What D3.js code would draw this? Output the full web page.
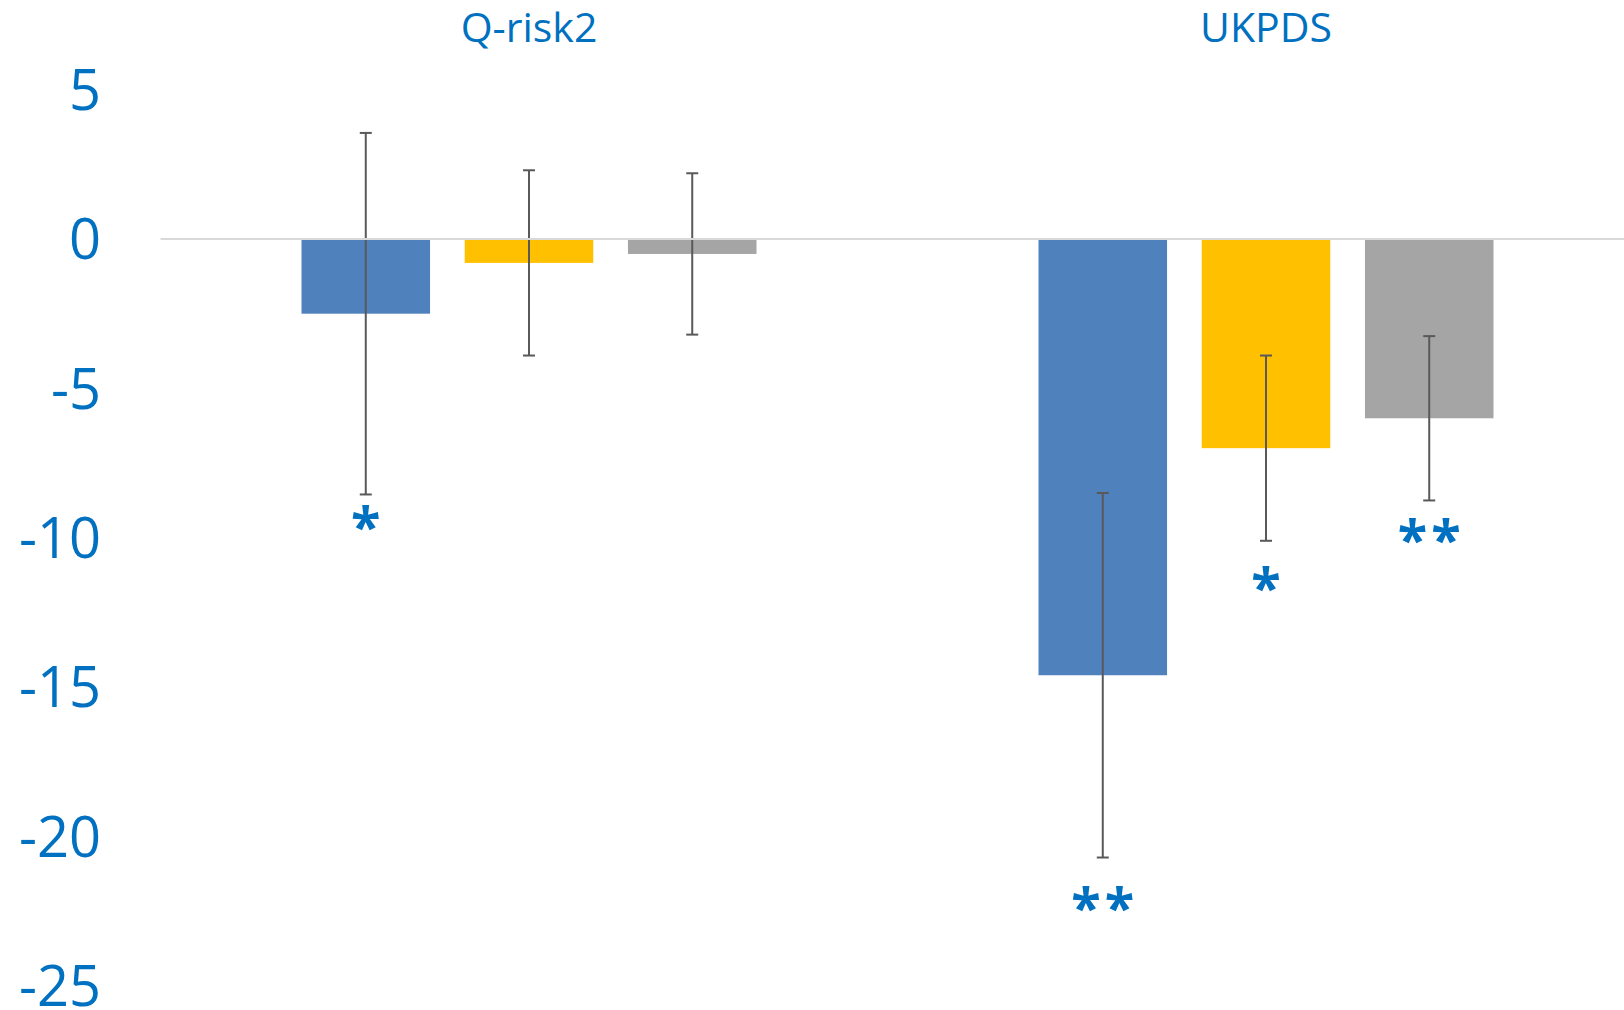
<!DOCTYPE html>
<html>
<head>
<meta charset="utf-8">
<script src="https://cdn.jsdelivr.net/npm/d3@7"></script>
<style>
  html, body { margin: 0; padding: 0; background: #ffffff; }
  svg { display: block; }
  text { font-family: "Open Sans", "Noto Sans", sans-serif; }
</style>
</head>
<body>
<svg id="chart" width="1624" height="1010"></svg>
<script>
// Risk-score groups and the three compared series in each group
const categories = ["Q-risk2", "UKPDS"];
const seriesNames = ["A", "B", "C"];
const seriesColors = ["#4F81BD", "#FFC000", "#A5A5A5"];

// Mean change per series, one array per group
const qriskValues = [-2.5, -0.8, -0.5];
const ukpdsValues = [-14.6, -7.0, -6.0];

// Half-width of the error bars (symmetric)
const qriskErrors = [6.05, 3.1, 2.7];
const ukpdsErrors = [6.1, 3.1, 2.75];

// Significance markers and the value at which each one sits
const qriskSig = ["*", "", ""];
const ukpdsSig = ["**", "*", "**"];
const qriskSigAt = [-9.35, null, null];
const ukpdsSigAt = [-22.1, -11.4, -9.8];

// Y axis ticks
const yTicks = [5, 0, -5, -10, -15, -20, -25];

const groups = [
  { name: categories[0], values: qriskValues, errors: qriskErrors, sig: qriskSig, sigAt: qriskSigAt },
  { name: categories[1], values: ukpdsValues, errors: ukpdsErrors, sig: ukpdsSig, sigAt: ukpdsSigAt }
];

const svg = d3.select("#chart");
const blue = "#0070C0";

const x0 = d3.scaleBand().domain(categories).range([160.5, 1634.5]).padding(0);
const x1 = d3.scaleBand().domain(seriesNames)
  .range([141, x0.bandwidth() - 141])
  .paddingInner(0.2125).paddingOuter(0);
const y = d3.scaleLinear().domain([-25, 5]).range([986, 89.6]);
const color = d3.scaleOrdinal().domain(seriesNames).range(seriesColors);

// Y axis labels only (no line, no ticks); plain hyphen for negatives
const yAxis = svg.append("g")
  .attr("transform", "translate(101,0)")
  .call(d3.axisLeft(y).tickValues(yTicks).tickSize(0).tickPadding(0).tickFormat(d => String(d)));
yAxis.select(".domain").remove();
yAxis.selectAll("text")
  .attr("fill", blue)
  .style("font-size", "56px")
  .style("font-family", "'Open Sans', sans-serif")
  .attr("dy", "0.35em");

// Category titles across the top
svg.append("g").selectAll("text")
  .data(categories)
  .join("text")
  .attr("x", d => x0(d) + x0.bandwidth() / 2)
  .attr("y", 41.5)
  .attr("text-anchor", "middle")
  .attr("fill", blue)
  .style("font-size", "41px")
  .text(d => d);

const g = svg.append("g").selectAll("g")
  .data(groups)
  .join("g")
  .attr("transform", d => `translate(${x0(d.name)},0)`);

const rows = d => seriesNames.map((s, i) => ({
  key: s, value: d.values[i], err: d.errors[i], sig: d.sig[i], sigAt: d.sigAt[i]
}));

// Bars
g.selectAll("rect")
  .data(rows)
  .join("rect")
  .attr("x", d => x1(d.key))
  .attr("width", x1.bandwidth())
  .attr("y", d => y(Math.max(0, d.value)))
  .attr("height", d => Math.abs(y(d.value) - y(0)))
  .attr("fill", d => color(d.key));

// Zero baseline
svg.append("line")
  .attr("x1", 160.5).attr("x2", 1624)
  .attr("y1", y(0)).attr("y2", y(0))
  .attr("stroke", "#D9D9D9")
  .attr("stroke-width", 2);

// Error bars
const capHalf = 6;
const eb = g.selectAll("g.err")
  .data(rows)
  .join("g")
  .attr("class", "err")
  .attr("stroke", "#595959")
  .attr("stroke-width", 2);
eb.append("line")
  .attr("x1", d => x1(d.key) + x1.bandwidth() / 2)
  .attr("x2", d => x1(d.key) + x1.bandwidth() / 2)
  .attr("y1", d => y(d.value + d.err))
  .attr("y2", d => y(d.value - d.err));
eb.append("line")
  .attr("x1", d => x1(d.key) + x1.bandwidth() / 2 - capHalf)
  .attr("x2", d => x1(d.key) + x1.bandwidth() / 2 + capHalf)
  .attr("y1", d => y(d.value + d.err))
  .attr("y2", d => y(d.value + d.err));
eb.append("line")
  .attr("x1", d => x1(d.key) + x1.bandwidth() / 2 - capHalf)
  .attr("x2", d => x1(d.key) + x1.bandwidth() / 2 + capHalf)
  .attr("y1", d => y(d.value - d.err))
  .attr("y2", d => y(d.value - d.err));

// Significance asterisks
g.selectAll("text.sig")
  .data(d => rows(d).filter(r => r.sig))
  .join("text")
  .attr("class", "sig")
  .attr("x", d => x1(d.key) + x1.bandwidth() / 2 + 2)
  .attr("y", d => y(d.sigAt))
  .attr("dy", "0.51em")
  .attr("text-anchor", "middle")
  .attr("fill", blue)
  .style("font-size", "54px")
  .style("font-weight", "bold")
  .style("letter-spacing", "4px")
  .text(d => d.sig);
</script>
</body>
</html>
